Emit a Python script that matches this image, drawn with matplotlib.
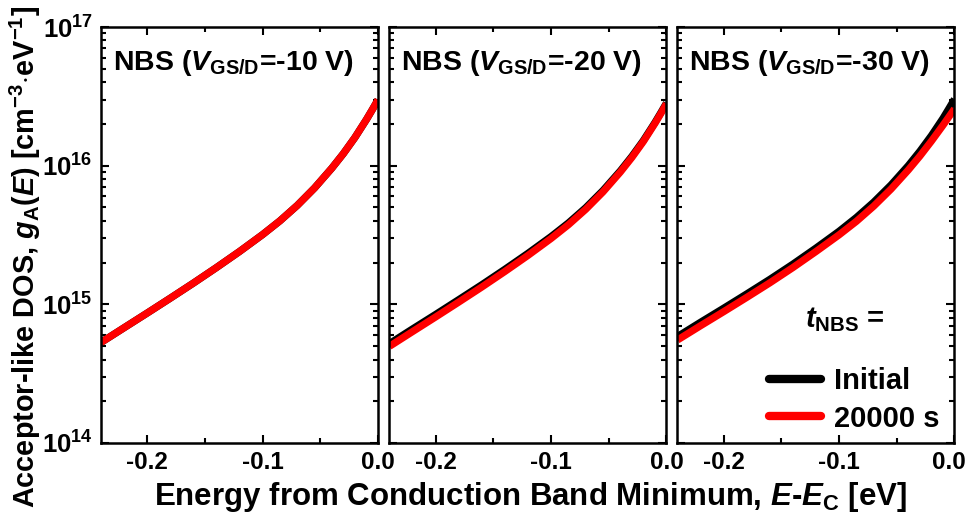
import math
import matplotlib
matplotlib.use("Agg")
import matplotlib.pyplot as plt
import matplotlib.transforms as mtransforms
from matplotlib.ticker import FixedLocator, LogLocator, FuncFormatter, NullFormatter

plt.rcParams.update({
    "font.family": ["Liberation Sans", "DejaVu Sans"],
    "font.weight": "bold",
    "mathtext.fontset": "custom",
    "mathtext.rm": "Liberation Sans:bold",
    "mathtext.bf": "Liberation Sans:bold",
    "mathtext.it": "Liberation Sans:italic:bold",
    "mathtext.bfit": "Liberation Sans:italic:bold",
    "mathtext.sf": "Liberation Sans:bold",
})

# Energy from conduction band minimum (eV)
energy = [-0.24, -0.22, -0.20, -0.18, -0.16, -0.14, -0.12, -0.10, -0.085,
          -0.07, -0.055, -0.04, -0.03, -0.02, -0.01, -0.005, 0.0]

# Acceptor-like DOS (cm^-3 eV^-1)
p1_initial = [5.31e14, 6.78e14, 8.65e14, 1.107e15, 1.422e15, 1.841e15, 2.404e15, 3.184e15, 3.999e15,
              5.164e15, 6.902e15, 9.594e15, 1.222e16, 1.596e16, 2.153e16, 2.529e16, 2.985e16]
p1_stress = [5.31e14, 6.78e14, 8.65e14, 1.107e15, 1.422e15, 1.841e15, 2.404e15, 3.184e15, 3.999e15,
             5.164e15, 6.902e15, 9.594e15, 1.222e16, 1.596e16, 2.153e16, 2.529e16, 2.985e16]
p2_initial = [5.21e14, 6.65e14, 8.46e14, 1.081e15, 1.385e15, 1.790e15, 2.333e15, 3.081e15, 3.861e15,
              4.973e15, 6.626e15, 9.175e15, 1.167e16, 1.520e16, 2.047e16, 2.402e16, 2.833e16]
p2_stress = [4.98e14, 6.36e14, 8.11e14, 1.038e15, 1.333e15, 1.726e15, 2.254e15, 2.985e15, 3.749e15,
             4.842e15, 6.471e15, 8.995e15, 1.146e16, 1.496e16, 2.019e16, 2.371e16, 2.799e16]
p3_initial = [5.86e14, 7.43e14, 9.38e14, 1.189e15, 1.514e15, 1.950e15, 2.547e15, 3.365e15, 4.231e15,
              5.458e15, 7.261e15, 1.002e16, 1.271e16, 1.648e16, 2.193e16, 2.570e16, 3.020e16]
p3_stress = [5.53e14, 7.01e14, 8.85e14, 1.122e15, 1.429e15, 1.841e15, 2.404e15, 3.170e15, 3.967e15,
             5.105e15, 6.776e15, 9.311e15, 1.172e16, 1.503e16, 1.954e16, 2.239e16, 2.570e16]

panel_titles = [r"NBS ($\mathit{V}_{\mathrm{GS/D}}$=-10 V)",
                r"NBS ($\mathit{V}_{\mathrm{GS/D}}$=-20 V)",
                r"NBS ($\mathit{V}_{\mathrm{GS/D}}$=-30 V)"]
series_labels = ["Initial", "20000 s"]
legend_title = r"$\mathit{t}_{\mathrm{NBS}}$ ="
x_ticks = [-0.2, -0.1, 0.0]
x_tick_labels = ["-0.2", "-0.1", "0.0"]

W, H = 970, 526
fig = plt.figure(figsize=(W / 100, H / 100), dpi=100)

lefts = [101, 389.5, 677.5]
aw, top, bottom = 277, 27, 443
data = [(p1_initial, p1_stress), (p2_initial, p2_stress), (p3_initial, p3_stress)]
XT_SIZE = 17.5

axes = []
for i, (l, (ini, st)) in enumerate(zip(lefts, data)):
    ax = fig.add_axes([l / W, 1 - bottom / H, aw / W, (bottom - top) / H])
    ax.plot(energy, ini, color="black", lw=5.2, solid_capstyle="butt", label=series_labels[0])
    ax.plot(energy, st, color="#ff0000", lw=5.2, solid_capstyle="butt", label=series_labels[1])
    ax.set_yscale("log")
    ax.set_xlim(-0.24, 0.0)
    ax.set_ylim(1e14, 1e17)
    ax.xaxis.set_major_locator(FixedLocator(x_ticks))
    if i < 2:
        ax.set_xticklabels(x_tick_labels)
    else:
        ax.set_xticklabels(x_tick_labels[:-1] + [""])
        off = mtransforms.ScaledTranslation(-6 / 100, -6 / 72, fig.dpi_scale_trans)
        ax.text(x_ticks[-1], 0, x_tick_labels[-1], fontsize=XT_SIZE, fontweight="bold",
                ha="center", va="top",
                transform=ax.get_xaxis_transform() + off)
    ax.xaxis.set_minor_locator(FixedLocator([-0.15, -0.05]))
    ax.yaxis.set_major_locator(LogLocator(base=10, numticks=10))
    ax.yaxis.set_minor_locator(LogLocator(base=10, subs=range(2, 10), numticks=20))
    ax.yaxis.set_minor_formatter(NullFormatter())
    if i == 0:
        ax.yaxis.set_major_formatter(FuncFormatter(lambda v, p: r"$10^{%d}$" % round(math.log10(v))))
    else:
        ax.yaxis.set_major_formatter(NullFormatter())
    ax.tick_params(which="both", direction="in", top=True, right=True, width=1.5)
    ax.tick_params(which="major", length=6)
    ax.tick_params(which="minor", length=3.5)
    ax.tick_params(axis="x", which="major", labelsize=XT_SIZE, pad=6)
    ax.tick_params(axis="y", which="major", labelsize=18.5, pad=6)
    for s in ax.spines.values():
        s.set_linewidth(1.8)
    ax.text(0.043, 0.95, panel_titles[i], transform=ax.transAxes, ha="left", va="top",
            fontsize=20.5, fontweight="bold")
    axes.append(ax)

ax3 = axes[2]
leg = ax3.legend(loc="lower right", bbox_to_anchor=(0.947, 0.025), frameon=False, fontsize=21,
                 handlelength=1.8, handletextpad=0.45, labelspacing=0.33,
                 borderpad=0.0, borderaxespad=0.0)
for h in leg.legend_handles:
    h.set_linewidth(6)
    h.set_solid_capstyle("round")
ax3.text(0.605, (bottom - 327) / (bottom - top), legend_title, transform=ax3.transAxes,
         ha="center", va="baseline", fontsize=21, fontweight="bold")

fig.text(530 / W, 1 - 497 / H, r"Energy from Conduction Band Minimum, $\mathit{E}$-$\mathit{E}_{\mathrm{C}}$ [eV]",
         ha="center", va="center", fontsize=22.5, fontweight="bold")
fig.text(25 / W, 1 - 257 / H,
         r"Acceptor-like DOS, $\mathit{g}_{\mathrm{A}}(\mathit{E})$ [cm$^{-3}$$\cdot$eV$^{-1}$]",
         ha="center", va="center", rotation=90, fontsize=20.8, fontweight="bold")

fig.savefig("out.png", dpi=100)
